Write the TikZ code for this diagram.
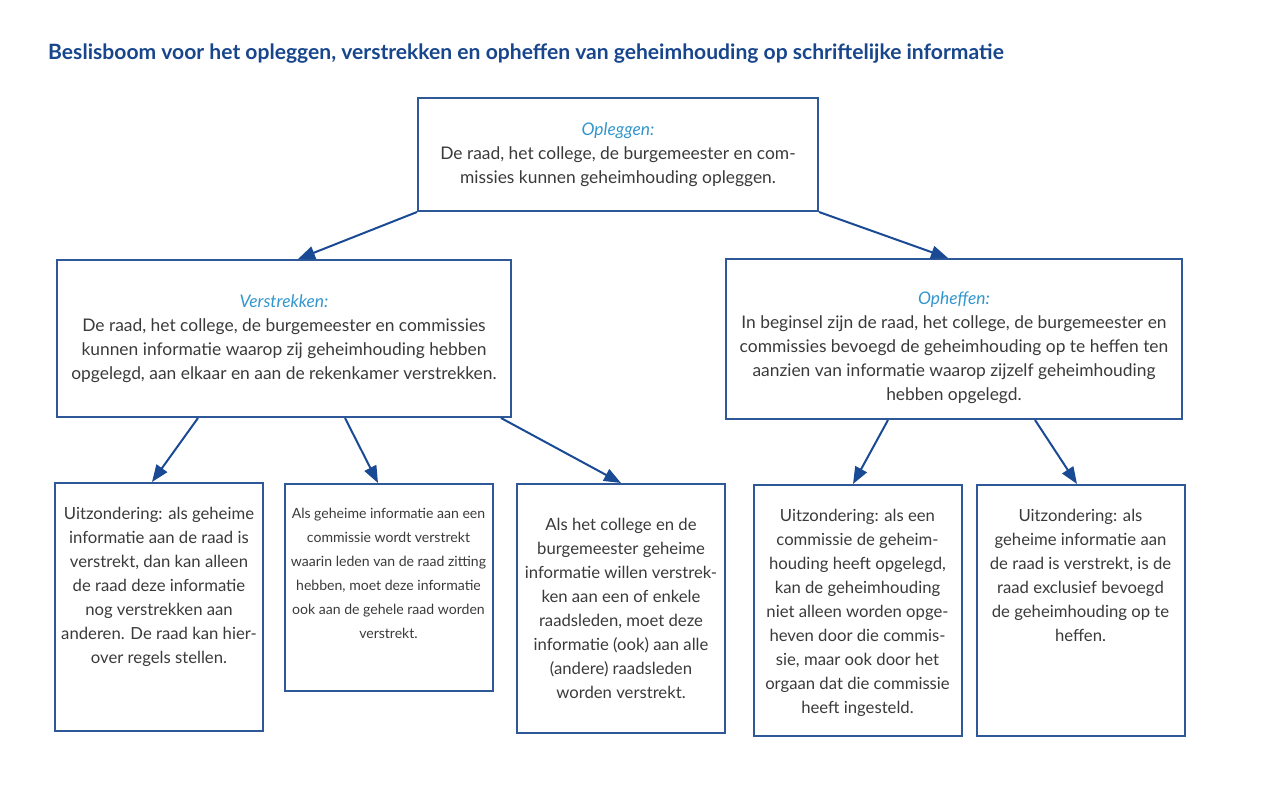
\documentclass[tikz,border=0pt]{standalone}
\usepackage{fontspec}
\setmainfont{Lato}
\usetikzlibrary{arrows.meta, positioning}
\definecolor{titleblue}{RGB}{24,70,140}
\definecolor{headblue}{RGB}{50,150,205}
\definecolor{frameblue}{RGB}{46,88,152}
\definecolor{arrowblue}{RGB}{26,74,148}
\definecolor{bodygray}{RGB}{58,58,58}
\newcommand{\boxtext}[3][4.8mm]{\parbox[c][#2][t]{39.6mm}{\centering\vspace*{#1}#3}}
\newcommand{\kop}[1]{{\color{headblue}\itshape #1}}

\begin{document}
\begin{tikzpicture}[x=0.2mm, y=-0.2mm,
    box/.style={rectangle, draw=frameblue, line width=0.4mm, text=bodygray,
                align=center, font=\fontsize{9.9}{13.66}\selectfont},
    bbox/.style={box, inner xsep=1mm, inner ysep=0pt, font=\fontsize{9.5}{13.66}\selectfont},
    arr/.style={-{Triangle[length=3.4mm, width=2.6mm]}, line width=0.4mm, draw=arrowblue}]
    \useasboundingbox (0,0) rectangle (1282,796);

    % Titel
    \node[anchor=base west, text=titleblue, font=\fontsize{12}{14}\selectfont\bfseries] (titel) at (42,59)
        {Beslisboom voor het opleggen, verstrekken en opheffen van geheimhouding op schriftelijke informatie};

    % Bovenste lagen
    \node[box, minimum width=80mm, minimum height=22.6mm] (opleggen) at (618,154.5)
        {\kop{Opleggen:}\\De raad, het college, de burgemeester en com-\\missies kunnen geheimhouding opleggen.};
    \node[box, minimum width=90.8mm, minimum height=31.4mm] (verstrekken) at (284,338.5)
        {\kop{Verstrekken:}\\De raad, het college, de burgemeester en commissies\\kunnen informatie waarop zij geheimhouding hebben\\opgelegd, aan elkaar en aan de rekenkamer verstrekken.};
    \node[box, minimum width=91.2mm, minimum height=32mm] (opheffen) at (954,339)
        {\rule{0pt}{17pt}\kop{Opheffen:}\\In beginsel zijn de raad, het college, de burgemeester en\\commissies bevoegd de geheimhouding op te heffen ten\\aanzien van informatie waarop zijzelf geheimhouding\\hebben opgelegd.};

    % Uitzonderingen
    \node[bbox] (raadregel) at (159,607)
        {\boxtext{49.6mm}{Uitzondering: als geheime\\informatie aan de raad is\\verstrekt, dan kan alleen\\de raad deze informatie\\nog verstrekken aan\\anderen. De raad kan hier-\\over regels stellen.}};
    \node[bbox, font=\fontsize{8}{13.66}\selectfont] (commissie) at (388.5,587.5)
        {\boxtext{41.4mm}{Als geheime informatie aan een\\commissie wordt verstrekt\\waarin leden van de raad zitting\\hebben, moet deze informatie\\ook aan de gehele raad worden\\verstrekt.}};
    \node[bbox] (college) at (621,608.5)
        {\boxtext[6.8mm]{49.8mm}{Als het college en de\\burgemeester geheime\\informatie willen verstrek-\\ken aan een of enkele\\raadsleden, moet deze\\informatie (ook) aan alle\\(andere) raadsleden\\worden verstrekt.}};
    \node[bbox] (uitzcommissie) at (857.5,610.5)
        {\boxtext{50.2mm}{Uitzondering: als een\\commissie de geheim-\\houding heeft opgelegd,\\kan de geheimhouding\\niet alleen worden opge-\\heven door die commis-\\sie, maar ook door het\\orgaan dat die commissie\\heeft ingesteld.}};
    \node[bbox] (uitzraad) at (1080.5,610.5)
        {\boxtext{50.2mm}{Uitzondering: als\\geheime informatie aan\\de raad is verstrekt, is de\\raad exclusief bevoegd\\de geheimhouding op te\\heffen.}};

    % Pijlen
    \draw[arr] (opleggen.south west) -- ([xshift=2.8mm]verstrekken.north);
    \draw[arr] (opleggen.south east) -- ([xshift=-1.2mm]opheffen.north);
    \draw[arr] ([xshift=-17.2mm]verstrekken.south) -- ([xshift=-1.4mm]raadregel.north);
    \draw[arr] ([xshift=12.2mm]verstrekken.south) -- ([xshift=-2.1mm]commissie.north);
    \draw[arr] ([xshift=-2.2mm]verstrekken.south east) -- (college.north);
    \draw[arr] ([xshift=-13.2mm]opheffen.south) -- ([xshift=-0.9mm]uitzcommissie.north);
    \draw[arr] ([xshift=16.2mm]opheffen.south) -- ([xshift=-0.7mm]uitzraad.north);
\end{tikzpicture}
\end{document}
